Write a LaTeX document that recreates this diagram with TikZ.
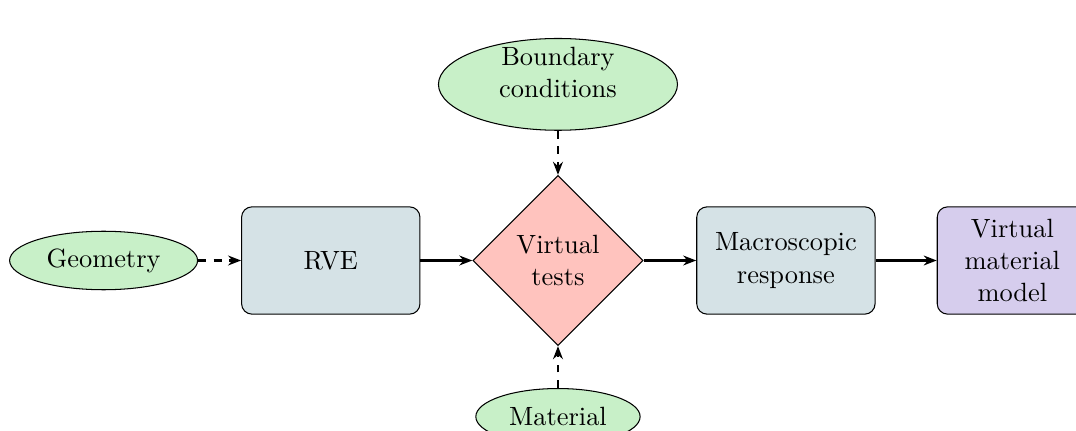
\documentclass[tikz,border=0pt]{standalone}
\usepackage{xcolor}
\usepackage{tikz}
\usetikzlibrary{
    arrows.meta,
    positioning,
    shapes.geometric
}
\definecolor{inputgreen}{RGB}{200,240,200}
\definecolor{stagegray}{RGB}{213,226,230}
\definecolor{testred}{RGB}{255,195,190}
\definecolor{modelviolet}{RGB}{214,205,237}
\tikzset{
    inputnode/.style={
        draw,
        ellipse,
        align=center,
        fill=inputgreen,
        minimum height=7.6mm
    }
}
\tikzset{
    stage/.style={
        draw,
        rounded corners=4pt,
        minimum width=24.1mm,
        minimum height=14.5mm,
        align=center,
        fill=stagegray
    }
}
\tikzset{
    testnode/.style={
        draw,
        diamond,
        minimum size=23mm,
        align=center,
        inner sep=1pt,
        fill=testred
    }
}
\tikzset{
    flow/.style={
        draw=black,
        line width=0.8pt,
        -{Stealth[length=5pt,width=3.8pt]}
    }
}
\tikzset{
    feed/.style={
        flow,
        dashed
    }
}

\begin{document}
\begin{tikzpicture}[font=\fontsize{10.15}{12.4}\selectfont]

\useasboundingbox (-75.4mm,-23.0mm) rectangle (70.0mm,35.2mm);

% ------------------------------------------------------------
% Main chain
% ------------------------------------------------------------

\node[testnode] (tests) at (0,0) {Virtual\\tests};
\node[stage] (rve) at (-30.7mm,0) {RVE};
\node[stage] (resp) at (30.8mm,0) {Macroscopic\\response};
\node[stage, fill=modelviolet, minimum width=20.3mm] (model) at (61.4mm,0)
    {Virtual\\material\\model};

% ------------------------------------------------------------
% Inputs
% ------------------------------------------------------------

\node[inputnode, minimum width=25.4mm] (geom) at (-61.4mm,0) {Geometry};
\node[inputnode, minimum width=32.3mm, minimum height=12.4mm,
      text depth=9pt, inner ysep=-2pt] (bc) at (0,23.8mm)
    {Boundary\\conditions};
\node[inputnode, minimum width=22.2mm] (mat) at (0,-21.1mm) {Material};

% ------------------------------------------------------------
% Connectors
% ------------------------------------------------------------

\draw[feed] (geom) -- (rve);
\draw[flow] (rve) -- (tests);
\draw[flow] (tests) -- (resp);
\draw[flow] (resp) -- (model);
\draw[feed] (bc) -- (tests);
\draw[feed] (mat) -- (tests);

\end{tikzpicture}
\end{document}
